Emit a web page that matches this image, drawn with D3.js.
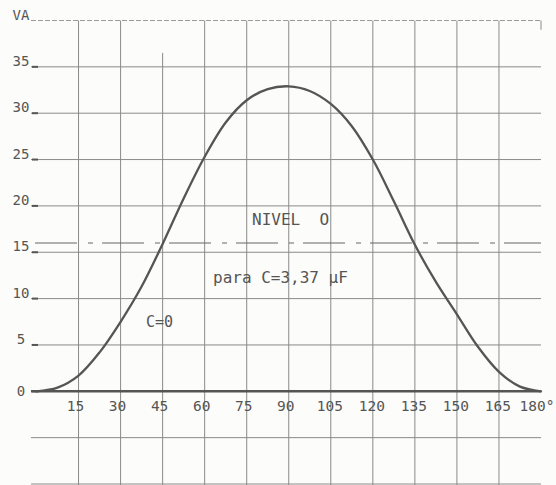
<!DOCTYPE html>
<html>
<head>
<meta charset="utf-8">
<script src="https://cdn.jsdelivr.net/npm/d3@7"></script>
<style>
  html, body { margin: 0; padding: 0; background: #fcfcfb; }
  svg { display: block; }
  text { font-family: "DejaVu Sans Mono", "Liberation Mono", monospace; fill: #555; }
</style>
</head>
<body>
<svg id="chart" width="556" height="485"></svg>
<script>
// ---- data ----
const angles = [0, 7.5, 15, 22.5, 30, 37.5, 45, 52.5, 60, 67.5, 75, 82.5, 90,
                97.5, 105, 112.5, 120, 127.5, 135, 142.5, 150, 157.5, 165, 172.5, 180];
const va     = [0, 0.4, 1.7, 4.2, 7.5, 11.3, 15.9, 20.8, 25.3, 29.0, 31.4, 32.6, 32.9,
                32.4, 31.0, 28.6, 25.0, 20.5, 15.8, 11.8, 8.3, 4.8, 2.1, 0.5, 0];
const xTicks      = [15, 30, 45, 60, 75, 90, 105, 120, 135, 150, 165, 180];
const xTickLabels = ["15", "30", "45", "60", "75", "90", "105", "120", "135", "150", "165", "180°"];
const yTicks      = [40, 35, 30, 25, 20, 15, 10, 5, 0];
const yTickLabels = ["VA", "35", "30", "25", "20", "15", "10", "5", "0"];
const gridY       = [40, 35, 30, 25, 20, 15, 10, 5, 0, -5, -10];
const nivelValue  = 16;
const nivelLabel  = "NIVEL  O";
const paraLabel   = "para C=3,37 µF";
const curveLabel  = "C=0";

// ---- scales ----
const svg = d3.select("#chart");
const x = d3.scaleLinear().domain([0, 180]).range([36.5, 541]);
const y = d3.scaleLinear().domain([-10, 40]).range([484, 20.5]);

const gridColor = "#8a8a8a";

// horizontal grid lines
svg.append("g").selectAll("line").data(gridY).join("line")
  .attr("x1", 31).attr("x2", x(180))
  .attr("y1", d => y(d)).attr("y2", d => y(d))
  .attr("stroke", d => d === 40 ? "#9a9a9a" : gridColor)
  .attr("stroke-width", d => d === 0 ? 0 : 1)
  .attr("stroke-dasharray", d => d === 40 ? "5,2" : null);

// vertical grid lines
svg.append("g").selectAll("line").data(xTicks.filter(d => d < 180)).join("line")
  .attr("x1", d => x(d)).attr("x2", d => x(d))
  .attr("y1", d => d === 45 ? y(36.5) : y(40)).attr("y2", 485)
  .attr("stroke", gridColor).attr("stroke-width", 1);

// small ticks at 180°
svg.append("line").attr("x1", x(180)).attr("x2", x(180))
  .attr("y1", y(40)).attr("y2", y(39)).attr("stroke", gridColor);

// short tick marks after y labels
svg.append("g").selectAll("line").data(yTicks.filter(d => d !== 40)).join("line")
  .attr("x1", 32).attr("x2", 38)
  .attr("y1", d => y(d)).attr("y2", d => y(d))
  .attr("stroke", "#555").attr("stroke-width", 2);

// zero axis
svg.append("line")
  .attr("x1", 31).attr("x2", x(180))
  .attr("y1", y(0)).attr("y2", y(0))
  .attr("stroke", "#555").attr("stroke-width", 2.4);

// NIVEL O dashed line
svg.append("line")
  .attr("x1", 35).attr("x2", x(180))
  .attr("y1", y(nivelValue)).attr("y2", y(nivelValue))
  .attr("stroke", "#666").attr("stroke-width", 1.2)
  .attr("stroke-dasharray", "42,11,5,9");

// curve
const line = d3.line()
  .x((d, i) => x(angles[i]))
  .y(d => y(d))
  .curve(d3.curveCatmullRom.alpha(0.5));
svg.append("path").datum(va)
  .attr("d", line)
  .attr("fill", "none")
  .attr("stroke", "#555")
  .attr("stroke-width", 2.3)
  .attr("stroke-linecap", "round");

// y labels
svg.append("g").selectAll("text").data(yTicks).join("text")
  .attr("x", 21)
  .attr("y", d => d === 0 ? y(d) + 5 : y(d) - 1)
  .attr("text-anchor", "middle")
  .attr("font-size", 14)
  .text((d, i) => yTickLabels[i]);

// x labels
svg.append("g").selectAll("text").data(xTicks).join("text")
  .attr("x", d => d === 180 ? x(d) - 4 : x(d) - (d < 100 ? 3 : 1))
  .attr("y", y(0) + 20)
  .attr("text-anchor", "middle")
  .attr("font-size", 14.5)
  .text((d, i) => xTickLabels[i]);

// annotations
svg.append("text").attr("x", 252).attr("y", 225)
  .attr("font-size", 16)
  .style("white-space", "pre")
  .text(nivelLabel);
svg.append("text").attr("x", 213).attr("y", 283)
  .attr("font-size", 16)
  .text(paraLabel);
svg.append("text").attr("x", 146).attr("y", 327)
  .attr("font-size", 15)
  .text(curveLabel);
</script>
</body>
</html>
